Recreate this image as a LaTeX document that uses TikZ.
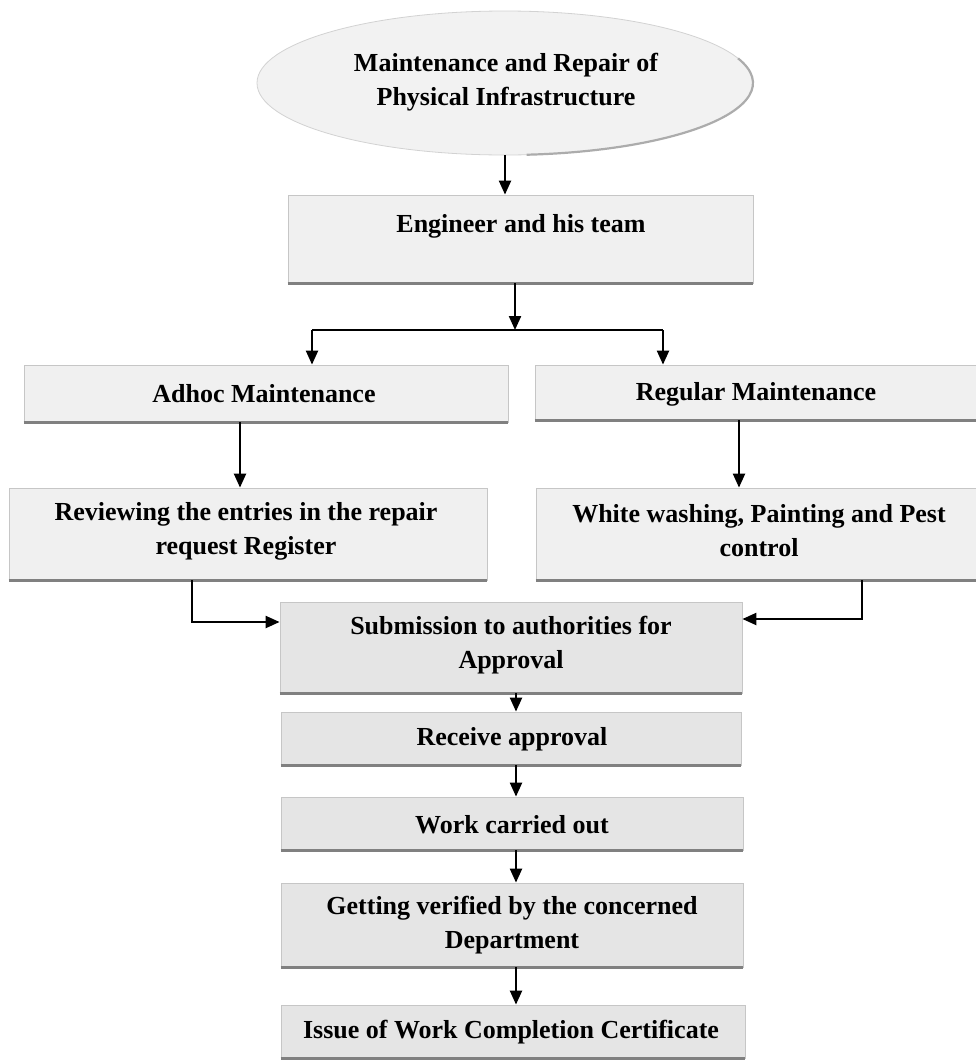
\documentclass[tikz,border=0pt]{standalone}
\usepackage{fontspec}
\setmainfont{Liberation Serif}
\usetikzlibrary{arrows.meta,shapes.geometric}
\tikzset{
  boxnode/.style={draw=gray!45, line width=0.8pt, fill=gray!12, rectangle, inner sep=0pt},
  darkbox/.style={boxnode, fill=gray!20},
  ellnode/.style={draw=gray!35, line width=0.8pt, fill=gray!10, ellipse, inner sep=0pt, minimum width=496pt, minimum height=144pt},
  txt/.style={font=\fontsize{26}{34}\selectfont\bfseries, align=center, inner sep=0pt, anchor=base},
  arr/.style={line width=2.2pt, -{Triangle[length=14pt,width=12pt]}},
  conn/.style={line width=2.2pt},
  shadowline/.style={line width=2.5pt, black!50},
}
\begin{document}
\begin{tikzpicture}[x=1pt,y=-1pt]
\useasboundingbox (0,0) rectangle (976,1061);
% shapes
\node[ellnode] (ell) at (505,83) {};
\draw[gray!65, line width=2.2pt] (ell.center) ++(-20:248 and 72) arc[start angle=-20, end angle=85, x radius=248, y radius=72];
\node[boxnode, minimum width=465pt, minimum height=88pt] (eng) at (520.5,239) {};
\node[boxnode, minimum width=484pt, minimum height=57pt] (adhoc) at (266,393.5) {};
\node[boxnode, minimum width=455pt, minimum height=55pt] (reg) at (762.5,392.5) {};
\node[boxnode, minimum width=478pt, minimum height=92pt] (rev) at (248,534) {};
\node[boxnode, minimum width=454pt, minimum height=92pt] (white) at (763,534) {};
\node[darkbox, minimum width=462pt, minimum height=91pt] (sub) at (511,647.5) {};
\node[darkbox, minimum width=460pt, minimum height=53pt] (rec) at (511,738.5) {};
\node[darkbox, minimum width=462pt, minimum height=53pt] (work) at (512,823.5) {};
\node[darkbox, minimum width=462pt, minimum height=84pt] (get) at (512,925) {};
\node[darkbox, minimum width=464pt, minimum height=53pt] (iss) at (513,1031.5) {};
\foreach \b in {eng,adhoc,reg,rev,white,sub,rec,work,get,iss}
  \draw[shadowline] (\b.south west) -- (\b.south east);
% texts
\node[txt] (t0) at (506,105) {Maintenance and Repair of\\Physical Infrastructure};
\node[txt] (t1) at (521,232) {Engineer and his team};
\node[txt] (t2) at (264,402) {Adhoc Maintenance};
\node[txt] (t3) at (756,400) {Regular Maintenance};
\node[txt] (t4) at (246,554) {Reviewing the entries in the repair\\request Register};
\node[txt] (t5) at (759,556) {White washing, Painting and Pest\\control};
\node[txt] (t6) at (511,668) {Submission to authorities for\\Approval};
\node[txt] (t7) at (512,745) {Receive approval};
\node[txt] (t8) at (512,833) {Work carried out};
\node[txt] (t9) at (512,948) {Getting verified by the concerned\\Department};
\node[txt] (t10) at (511,1038) {Issue of Work Completion Certificate};
% connectors
\coordinate (bar) at (515,330);
\coordinate (bl) at (312,330);
\coordinate (br) at (663,330);
\draw[arr] (ell.south) -- (ell.south |- eng.north);
\draw[arr] (bar |- eng.south) -- (bar);
\draw[conn] (bl) -- (br);
\draw[arr] (bl) -- (bl |- adhoc.north);
\draw[arr] (br) -- (br |- reg.north);
\draw[arr] ([xshift=-26pt]adhoc.south) -- ([xshift=-26pt]adhoc.south |- rev.north);
\draw[arr] ([xshift=-23.5pt]reg.south) -- ([xshift=-23.5pt]reg.south |- white.north);
\draw[arr] ([xshift=-56pt]rev.south) |- ([yshift=25.5pt]sub.west);
\draw[arr] ([xshift=99pt]white.south) |- ([yshift=28.5pt]sub.east);
\draw[arr] ([xshift=5pt]sub.south) -- ([xshift=5pt]sub.south |- rec.north);
\draw[arr] ([xshift=5pt]rec.south) -- ([xshift=5pt]rec.south |- work.north);
\draw[arr] ([xshift=4pt]work.south) -- ([xshift=4pt]work.south |- get.north);
\draw[arr] ([xshift=4pt]get.south) -- ([xshift=4pt]get.south |- iss.north);
\end{tikzpicture}
\end{document}
